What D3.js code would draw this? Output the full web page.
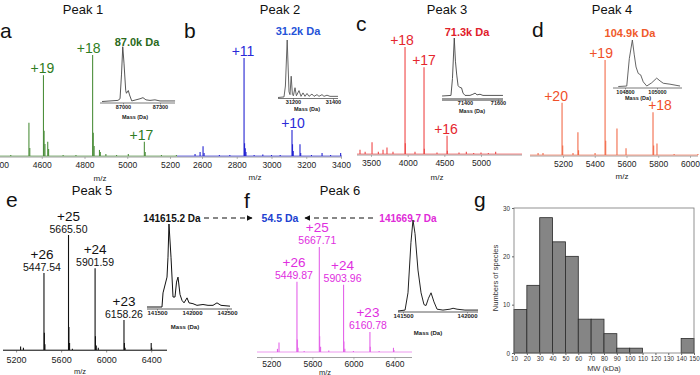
<!DOCTYPE html>
<html><head><meta charset="utf-8">
<script src="https://cdn.jsdelivr.net/npm/d3@7"></script>
<style>body{margin:0;background:#fff} svg{display:block} text{font-family:"Liberation Sans",Arial,sans-serif}</style>
</head><body><svg id="c" width="700" height="375"></svg>
<script>
// ---------------- DATA ----------------
const panelTitles = ["Peak 1","Peak 2","Peak 3","Peak 4","Peak 5","Peak 6"];
const panelLetters = ["a","b","c","d","e","f","g"];

// panel a
const mzTicksA = [4400,4600,4800,5000,5200];
const peaksA = [[4455,0.01],[4540,0.33],[4544,0.08],[4608,0.80],[4611,0.25],[4615,0.12],[4628,0.14],[4632,0.07],[4700,0.01],[4760,0.01],[4838,1.0],[4841,0.23],[4845,0.1],[4870,0.06],[4874,0.04],[4900,0.02],[4950,0.01],[5005,0.02],[5080,0.14],[5084,0.04],[5160,0.01],[5230,0.01]];
const chargeA = [["+19",4608],["+18",4838],["+17",5080]];
const massLabelA = "87.0k Da";
const insetTicksA = [87000,87300];
const insetA = [[86830,0],[86959,0.02],[86976,0.05],[86988,0.5],[86998,1.0],[87008,0.7],[87022,0.2],[87028,0.15],[87043,0.2],[87053,0.12],[87071,0.01],[87105,0.03],[87138,0.05],[87162,0.07],[87186,0.03],[87219,0.02],[87259,0.03],[87300,0.01],[87422,0.01]];

// panel b
const mzTicksB = [2600,2800,3000,3200,3400];
const peaksB = [[2560,0.02],[2589,0.04],[2606,0.10],[2612,0.03],[2700,0.01],[2760,0.01],[2842,1.0],[2845,0.13],[2849,0.08],[2853,0.04],[2900,0.01],[2950,0.015],[3000,0.01],[3050,0.01],[3118,0.265],[3121,0.12],[3125,0.05],[3164,0.12],[3168,0.03],[3230,0.01],[3291,0.03],[3340,0.01],[3398,0.03]];
const chargeB = [["+11",2842],["+10",3118]];
const massLabelB = "31.2k Da";
const insetTicksB = [31200,31400];
const insetB = [[31125,0],[31155,0.01],[31162,0.2],[31171,1.0],[31180,0.1],[31185,0.05],[31191,0.37],[31197,0.05],[31202,0.03],[31210,0.17],[31217,0.03],[31230,0.12],[31240,0.02],[31250,0.08],[31260,0.02],[31270,0.07],[31280,0.02],[31295,0.06],[31305,0.02],[31320,0.05],[31330,0.02],[31345,0.05],[31355,0.02],[31370,0.04],[31385,0.02],[31425,0.02]];

// panel c
const mzTicksC = [3500,4000,4500,5000];
const peaksC = [[3350,0.04],[3420,0.02],[3514,0.11],[3600,0.02],[3664,0.04],[3718,0.06],[3800,0.02],[3964,1.0],[3968,0.1],[4100,0.02],[4223,0.81],[4227,0.05],[4400,0.015],[4537,0.17],[4541,0.03],[4700,0.015],[4800,0.02],[4900,0.01],[5000,0.015],[5100,0.01],[5200,0.02]];
const chargeC = [["+18",3964],["+17",4223],["+16",4537]];
const massLabelC = "71.3k Da";
const insetTicksC = [71400,71600];
const insetC = [[71261,0],[71315,0.01],[71324,0.3],[71335,1.0],[71342,0.6],[71350,0.36],[71358,0.18],[71367,0.15],[71379,0.14],[71388,0.05],[71400,0.01],[71430,0.01],[71448,0.03],[71461,0.05],[71473,0.02],[71491,0.03],[71509,0.01],[71630,0.01]];

// panel d
const mzTicksD = [5200,5400,5600,5800,6000];
const peaksD = [[5043,0.02],[5074,0.02],[5194,0.55],[5198,0.1],[5263,0.02],[5294,0.24],[5298,0.05],[5402,0.02],[5465,1.0],[5469,0.15],[5540,0.28],[5597,0.07],[5767,0.45],[5771,0.1],[5792,0.12],[5900,0.01],[6050,0.01]];
const chargeD = [["+20",5194],["+19",5465],["+18",5767]];
const massLabelD = "104.9k Da";
const insetTicksD = [104800,105000];
const insetD = [[104758,0],[104811,0.01],[104827,0.6],[104846,1.0],[104858,0.68],[104869,0.42],[104883,0.28],[104898,0.25],[104914,0.1],[104936,0.01],[104967,0.08],[104998,0.18],[105019,0.12],[105039,0.07],[105081,0.05],[105144,0.01]];

// panel e
const mzTicksE = [5200,5600,6000,6400];
const peaksE = [[5240,0.03],[5265,0.02],[5447.54,0.67],[5451,0.15],[5456,0.05],[5665.5,1.0],[5669,0.2],[5675,0.06],[5700,0.01],[5901.59,0.71],[5905,0.12],[5912,0.04],[5930,0.02],[6158.26,0.26],[6162,0.06],[6168,0.02],[6400,0.06],[6404,0.02]];
const chargeE = [["+26","5447.54"],["+25","5665.50"],["+24","5901.59"],["+23","6158.26"]];
const massLabelE = "141615.2 Da";
const insetTicksE = [141500,142000,142500];
const insetE = [[141357,0],[141571,0],[141586,0.17],[141643,0.36],[141657,0.6],[141671,1.0],[141700,0.6],[141729,0.12],[141757,0.12],[141779,0.3],[141800,0.36],[141829,0.15],[141857,0.08],[141886,0.05],[141929,0.11],[141957,0.05],[142014,0.04],[142071,0.02],[142157,0.03],[142229,0.02],[142300,0.02],[142357,0.05],[142414,0.02],[142543,0.01]];

// panel f
const mzTicksF = [5200,5600,6000,6400];
const peaksF = [[5260,0.03],[5275,0.09],[5449.87,0.67],[5453,0.12],[5460,0.04],[5520,0.01],[5667.71,1.0],[5671,0.15],[5680,0.05],[5760,0.015],[5903.96,0.64],[5907,0.1],[5916,0.03],[6000,0.01],[6160.78,0.19],[6164,0.05],[6250,0.01],[6390,0.04],[6394,0.02]];
const chargeF = [["+26","5449.87"],["+25","5667.71"],["+24","5903.96"],["+23","6160.78"]];
const massLabelF = "141669.7 Da";
const insetTicksF = [141500,142000];
const insetF = [[141461,0],[141516,0.01],[141539,0.2],[141562,0.75],[141578,1.0],[141594,0.85],[141617,0.45],[141641,0.2],[141664,0.07],[141680,0.06],[141699,0.14],[141719,0.2],[141742,0.1],[141766,0.02],[141812,0.01],[141867,0.02],[141891,0.03],[141922,0.02],[141984,0.01],[142086,0.01]];
const diffLabel = "54.5 Da";

// panel g
const histBinStarts = [10,20,30,40,50,60,70,80,90,100,110,120,130,140];
const histCounts = [9,14,28,23,20,7,7,4,1,1,0,0,0,3];
const histXTicks = [10,20,30,40,50,60,70,80,90,100,110,120,130,140,150];
const histYTicks = [0,10,20,30];
const histXLabel = "MW (kDa)";
const histYLabel = "Numbers of species";
const mzLabel = "m/z";
const massAxisLabel = "Mass (Da)";

// ---------------- DRAW ----------------
const svg = d3.select("#c");
const FONT = '"Liberation Sans",Arial,sans-serif';

function txt(x,y,s,size,fill,opts={}){
  return svg.append("text").attr("x",x).attr("y",y).text(s)
    .attr("font-size",size).attr("fill",fill)
    .attr("text-anchor",opts.anchor||"middle")
    .attr("font-weight",opts.bold?"bold":"normal");
}

function spectrum(L, peaks, ticks, charges, mzLabels){
  const x = d3.scaleLinear().domain(L.dom).range(L.rng);
  const y = d3.scaleLinear().domain([0,1]).range([L.base,L.top]);
  const g = svg.append("g");
  g.append("line").attr("x1",L.axis[0]).attr("x2",L.axis[1]).attr("y1",L.axisY).attr("y2",L.axisY)
    .attr("stroke",L.axisColor).attr("stroke-width",0.8);
  const ax = d3.axisBottom(x).tickValues(ticks).tickSize(2).tickPadding(L.tickPad).tickFormat(d3.format("d"));
  const ag = g.append("g").attr("transform",`translate(0,${L.axisY})`).call(ax);
  ag.select(".domain").remove();
  ag.selectAll("line").attr("stroke",L.axisColor).attr("stroke-width",0.6);
  ag.selectAll("text").attr("font-size",L.tickFont).attr("font-family",FONT).attr("fill","#222");
  txt(L.mzX,L.mzY,mzLabel,L.mzFont,"#222");
  g.append("line").attr("x1",L.axis[0]).attr("x2",L.axis[1]).attr("y1",y(0)).attr("y2",y(0))
    .attr("stroke",L.color).attr("stroke-width",0.8).attr("opacity",0.8);
  g.selectAll("line.pk").data(peaks).join("line").attr("class","pk")
    .attr("x1",d=>x(d[0])).attr("x2",d=>x(d[0])).attr("y1",y(0)).attr("y2",d=>y(d[1]))
    .attr("stroke",L.color).attr("stroke-width",L.pkW);
  charges.forEach((c,i)=>{
    const mz = mzLabels ? +c[1] : c[1];
    const pk = peaks.find(p=>p[0]===mz);
    const px = x(mz) + (L.dx[i]||0), py = y(pk[1]);
    if(mzLabels){
      txt(px, py - L.numGap, c[1], L.numFont, L.labelColor);
      txt(px, py - L.chGap, c[0], L.chFont, L.labelColor);
    } else {
      txt(px, py - L.chGap, c[0], L.chFont, L.labelColor);
    }
  });
}

function inset(L, prof, ticks){
  const x = d3.scaleLinear().domain(L.dom).range(L.rng);
  const y = d3.scaleLinear().domain([0,1]).range([L.base,L.top]);
  const g = svg.append("g");
  g.append("line").attr("x1",L.axis[0]).attr("x2",L.axis[1]).attr("y1",L.axisY).attr("y2",L.axisY)
    .attr("stroke",L.axisColor).attr("stroke-width",L.axisW);
  const ax = d3.axisBottom(x).tickValues(ticks).tickSize(1.5).tickPadding(0.5).tickFormat(d3.format("d"));
  const ag = g.append("g").attr("transform",`translate(0,${L.axisY})`).call(ax);
  ag.select(".domain").remove();
  ag.selectAll("line").attr("stroke","#444").attr("stroke-width",0.5);
  ag.selectAll("text").attr("font-size",L.font).attr("font-weight","bold").attr("font-family",FONT).attr("fill","#222");
  txt(L.labX,L.labY,massAxisLabel,L.font,"#222",{bold:true});
  g.append("path").datum(prof).attr("fill","none").attr("stroke",L.color).attr("stroke-width",L.w)
    .attr("stroke-linejoin","round")
    .attr("d",d3.line().x(d=>x(d[0])).y(d=>y(d[1])));
}

const titlePos = [[83,14],[280,14],[447,14],[612,14],[92,195],[340,195]];
panelTitles.forEach((t,i)=>txt(titlePos[i][0],titlePos[i][1],t,13,"#111"));
const letterPos = [[0,38],[184,38],[356,31],[532,37],[6,207],[244,208],[474,207]];
panelLetters.forEach((t,i)=>txt(letterPos[i][0],letterPos[i][1],t,21,"#111",{anchor:"start"}));

const common = {tickPad:3, tickFont:8.5, pkW:1.1, chGap:2, chFont:14, axisColor:"#888", mzFont:8};

// a
spectrum(Object.assign({},common,{dom:[4400,5200],rng:[-1,170],base:156,top:55,axis:[0,177],axisY:157,
  color:"#4d8f3c",labelColor:"#2f7d22",dx:[-1,-4,-3],mzX:100,mzY:181}),peaksA,mzTicksA,chargeA,false);
txt(137,46,massLabelA,11,"#2a6a1c",{bold:true});
inset({dom:[87000,87300],rng:[123,160],base:101.5,top:46.7,axis:[100,175],axisY:103,axisColor:"#555",axisW:0.8,
  color:"#444",w:0.9,font:5.5,labX:135,labY:119},insetA,insetTicksA);

// b
spectrum(Object.assign({},common,{dom:[2600,3400],rng:[202,341],base:156,top:58,axis:[177,342],axisY:157,
  color:"#2323d2",labelColor:"#2a2ad8",dx:[-1,1],mzX:255,mzY:180}),peaksB,mzTicksB,chargeB,false);
txt(298,35,massLabelB,11,"#2553d8",{bold:true});
inset({dom:[31200,31400],rng:[293,333],base:97.5,top:40,axis:[278,338],axisY:98.5,axisColor:"#555",axisW:0.8,
  color:"#555",w:0.9,font:5.5,labX:307,labY:111},insetB,insetTicksB);

// c
spectrum(Object.assign({},common,{dom:[3500,5000],rng:[371,481],base:154,top:47,axis:[357,522],axisY:155,
  color:"#ef4646",labelColor:"#e5262e",dx:[-3,0,-1],mzX:437,mzY:180}),peaksC,mzTicksC,chargeC,false);
txt(467,36,massLabelC,11,"#e0202a",{bold:true});
inset({dom:[71400,71600],rng:[465,498],base:96,top:38,axis:[442,503],axisY:99.5,axisColor:"#999",axisW:3,
  color:"#444",w:0.9,font:5.5,labX:472,labY:113},insetC,insetTicksC);

// d
spectrum(Object.assign({},common,{dom:[5200,6000],rng:[563,690],base:155,top:60,axis:[530,698],axisY:156,
  color:"#f26b4a",labelColor:"#f0502a",dx:[-6,-4,7],mzX:622,mzY:179}),peaksD,mzTicksD,chargeD,false);
txt(630,37,massLabelD,11,"#f05a2a",{bold:true});
inset({dom:[104800,105000],rng:[625,657],base:86.5,top:40,axis:[613,682],axisY:88,axisColor:"#555",axisW:0.8,
  color:"#555",w:0.9,font:5.5,labX:638,labY:100},insetD,insetTicksD);

// e
spectrum(Object.assign({},common,{dom:[5200,6400],rng:[16.1,151.2],base:350,top:235,axis:[3,167],axisY:350.5,axisColor:"#444",
  color:"#111",labelColor:"#111",dx:[-2,0,0,0],mzX:80,mzY:374,mzFont:7.5,tickFont:9,chGap:14,chFont:13.5,numGap:2,numFont:10.5,tickPad:4}),
  peaksE,mzTicksE,chargeE,true);
txt(172,221.5,massLabelE,10,"#111",{bold:true});
inset({dom:[141500,142000],rng:[157,192],base:307,top:224,axis:[147,232],axisY:309,axisColor:"#333",axisW:0.8,
  color:"#111",w:1,font:6,labX:185,labY:329},insetE,insetTicksE);

// f
spectrum(Object.assign({},common,{dom:[5200,6400],rng:[271.3,394.5],base:352,top:247,axis:[257,412],axisY:357.5,axisColor:"#888",
  color:"#e463e9",labelColor:"#e02ee0",dx:[-3,-2,-1,-2],mzX:325,mzY:374.5,mzFont:7.5,tickFont:8.5,chGap:15,chFont:13.5,numGap:3,numFont:10.5,tickPad:1.5}),
  peaksF,mzTicksF,chargeF,true);
txt(408,221.5,massLabelF,10,"#e02ad8",{bold:true});
inset({dom:[141500,142000],rng:[403,467],base:311,top:220,axis:[398,478],axisY:312,axisColor:"#333",axisW:0.8,
  color:"#222",w:1,font:6,labX:428,labY:335},insetF,insetTicksF);

// dashed arrows
const defs = svg.append("defs");
["ab","ar"].forEach(id=>{
  defs.append("marker").attr("id",id).attr("viewBox","0 0 10 10").attr("refX",9).attr("refY",5)
    .attr("markerWidth",5).attr("markerHeight",5).attr("orient","auto-start-reverse")
    .append("path").attr("d","M0,0L10,5L0,10z").attr("fill","#111");
});
svg.append("line").attr("x1",204).attr("x2",252).attr("y1",218).attr("y2",218).attr("stroke","#111")
  .attr("stroke-width",1.2).attr("stroke-dasharray","5,4").attr("marker-end","url(#ab)");
svg.append("line").attr("x1",373).attr("x2",305).attr("y1",218).attr("y2",218).attr("stroke","#111")
  .attr("stroke-width",1.2).attr("stroke-dasharray","5,4").attr("marker-end","url(#ar)");
txt(280,221.5,diffLabel,10.5,"#2040d0",{bold:true});

// g histogram
const gx = d3.scaleLinear().domain([10,150]).range([514,694]);
const gy = d3.scaleLinear().domain([0,30]).range([353,208]);
const hg = svg.append("g");
hg.selectAll("rect.bar").data(histBinStarts.map((b,i)=>[b,histCounts[i]]).filter(d=>d[1]>0)).join("rect")
  .attr("class","bar").attr("x",d=>gx(d[0])).attr("width",d=>gx(d[0]+10)-gx(d[0]))
  .attr("y",d=>gy(d[1])).attr("height",d=>gy(0)-gy(d[1]))
  .attr("fill","#858585").attr("stroke","#2a2a2a").attr("stroke-width",0.8);
hg.append("rect").attr("x",514).attr("y",208).attr("width",180).attr("height",145)
  .attr("fill","none").attr("stroke","#777").attr("stroke-width",0.8);
const gxa = hg.append("g").attr("transform","translate(0,353)")
  .call(d3.axisBottom(gx).tickValues(histXTicks).tickSize(2).tickPadding(2));
const gya = hg.append("g").attr("transform","translate(514,0)")
  .call(d3.axisLeft(gy).tickValues(histYTicks).tickSize(2).tickPadding(2));
[gxa,gya].forEach(a=>{a.select(".domain").remove();
  a.selectAll("line").attr("stroke","#666");
  a.selectAll("text").attr("font-size",6.3).attr("font-family",FONT).attr("fill","#333");});
txt(604,371,histXLabel,7.5,"#333");
svg.append("text").attr("transform","translate(498,278) rotate(-90)").attr("text-anchor","middle")
  .attr("font-size",7.5).attr("fill","#333").text(histYLabel);
</script></body></html>
